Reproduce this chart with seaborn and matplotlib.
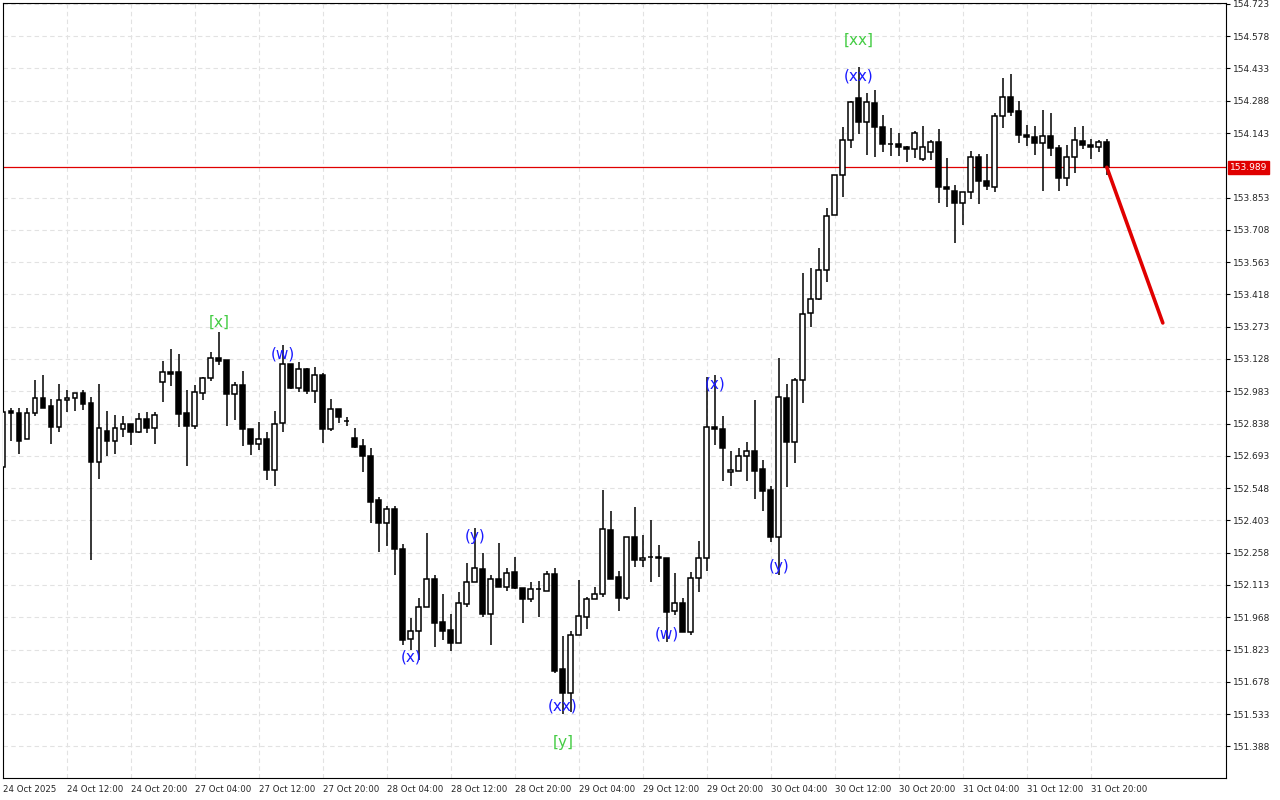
import matplotlib

matplotlib.use("Agg")
import matplotlib.pyplot as plt
import numpy as np
import pandas as pd
import seaborn as sns

# H1 candles, 24 Oct 04:00 .. 31 Oct 22:00 (weekend skipped)
opens = [
    152.643, 152.894, 152.885, 152.769, 152.885, 152.953, 152.917, 152.823, 152.944, 152.953,
    152.975, 152.931, 152.665, 152.805, 152.760, 152.814, 152.836, 152.800, 152.859, 152.818,
    153.025, 153.070, 153.070, 152.885, 152.827, 152.975, 153.043, 153.133, 153.124, 152.971,
    153.011, 152.814, 152.746, 152.769, 152.629, 152.841, 153.106, 152.998, 153.083, 152.985,
    153.056, 152.814, 152.903, 152.850, 152.773, 152.737, 152.692, 152.494, 152.391, 152.454,
    152.274, 151.870, 151.906, 152.014, 152.140, 151.946, 151.910, 151.852, 152.027, 152.126,
    152.185, 151.982, 152.140, 152.104, 152.171, 152.099, 152.050, 152.095, 152.086, 152.162,
    151.735, 151.627, 151.888, 151.969, 152.050, 152.072, 152.360, 152.149, 152.054, 152.328,
    152.225, 152.238, 152.238, 152.234, 151.996, 152.032, 151.901, 152.144, 152.234, 152.823,
    152.814, 152.620, 152.625, 152.692, 152.715, 152.634, 152.539, 152.328, 152.953, 152.755,
    153.034, 153.335, 153.398, 153.527, 153.775, 153.955, 154.112, 154.301, 154.193, 154.278,
    154.171, 154.094, 154.094, 154.081, 154.072, 154.027, 154.058, 154.103, 153.901, 153.883,
    153.829, 153.878, 154.036, 153.928, 153.901, 154.220, 154.305, 154.242, 154.134, 154.125,
    154.098, 154.130, 154.076, 153.941, 154.036, 154.107, 154.089, 154.081, 154.103,
]
highs = [
    152.899, 152.908, 152.908, 152.908, 153.034, 153.056, 152.949, 153.016, 152.989, 152.975,
    152.989, 152.958, 153.016, 152.894, 152.876, 152.872, 152.836, 152.885, 152.890, 152.890,
    153.119, 153.173, 153.151, 152.989, 153.011, 153.047, 153.160, 153.249, 153.124, 153.025,
    153.074, 152.814, 152.845, 152.800, 152.894, 153.191, 153.106, 153.115, 153.088, 153.092,
    153.065, 152.949, 152.903, 152.867, 152.818, 152.769, 152.728, 152.508, 152.467, 152.467,
    152.297, 151.964, 152.054, 152.346, 152.158, 152.072, 151.982, 152.081, 152.212, 152.369,
    152.256, 152.158, 152.301, 152.189, 152.238, 152.099, 152.126, 152.131, 152.176, 152.189,
    151.883, 151.906, 152.135, 152.059, 152.104, 152.539, 152.445, 152.176, 152.328, 152.463,
    152.337, 152.405, 152.292, 152.234, 152.167, 152.054, 152.171, 152.310, 153.047, 153.056,
    152.872, 152.715, 152.728, 152.755, 152.944, 152.674, 152.558, 153.133, 153.016, 153.043,
    153.514, 153.537, 153.627, 153.806, 153.955, 154.171, 154.288, 154.440, 154.323, 154.337,
    154.224, 154.166, 154.143, 154.085, 154.152, 154.175, 154.112, 154.161, 154.031, 153.910,
    153.878, 154.063, 154.049, 154.049, 154.233, 154.391, 154.409, 154.287, 154.179, 154.175,
    154.247, 154.233, 154.089, 154.089, 154.171, 154.175, 154.116, 154.112, 154.116,
]
lows = [
    152.629, 152.760, 152.702, 152.769, 152.872, 152.908, 152.746, 152.800, 152.890, 152.894,
    152.899, 152.225, 152.589, 152.692, 152.701, 152.778, 152.742, 152.796, 152.796, 152.746,
    152.935, 153.007, 152.823, 152.647, 152.814, 152.944, 153.029, 153.101, 152.827, 152.854,
    152.737, 152.696, 152.719, 152.585, 152.558, 152.800, 152.994, 152.980, 152.971, 152.931,
    152.751, 152.805, 152.841, 152.827, 152.728, 152.620, 152.391, 152.261, 152.288, 152.157,
    151.843, 151.821, 151.776, 152.014, 151.834, 151.865, 151.816, 151.852, 152.014, 152.126,
    151.969, 151.843, 152.104, 152.086, 152.095, 151.942, 152.036, 151.969, 152.086, 151.717,
    151.533, 151.542, 151.888, 151.915, 152.050, 152.059, 152.140, 151.996, 152.045, 152.194,
    152.194, 152.126, 152.149, 151.856, 151.978, 151.901, 151.888, 152.081, 152.176, 152.742,
    152.580, 152.558, 152.625, 152.580, 152.499, 152.445, 152.306, 152.158, 152.553, 152.661,
    152.931, 153.272, 153.393, 153.474, 153.775, 153.856, 154.076, 154.139, 154.045, 154.036,
    154.058, 154.040, 154.040, 154.013, 154.031, 154.018, 154.022, 153.829, 153.811, 153.649,
    153.730, 153.847, 153.824, 153.887, 153.878, 154.166, 154.220, 154.098, 154.085, 154.045,
    153.883, 154.040, 153.883, 153.905, 153.964, 154.072, 154.027, 154.058, 153.955,
]
closes = [
    152.890, 152.885, 152.760, 152.885, 152.953, 152.908, 152.823, 152.944, 152.953, 152.975,
    152.926, 152.665, 152.818, 152.760, 152.818, 152.836, 152.800, 152.859, 152.818, 152.876,
    153.070, 153.061, 152.881, 152.827, 152.980, 153.043, 153.133, 153.119, 152.971, 153.011,
    152.814, 152.746, 152.769, 152.629, 152.836, 153.106, 152.998, 153.083, 152.985, 153.056,
    152.814, 152.903, 152.867, 152.851, 152.733, 152.692, 152.485, 152.391, 152.454, 152.274,
    151.865, 151.906, 152.014, 152.140, 151.942, 151.906, 151.852, 152.032, 152.126, 152.189,
    151.982, 152.140, 152.104, 152.167, 152.099, 152.050, 152.095, 152.096, 152.162, 151.726,
    151.627, 151.888, 151.973, 152.050, 152.072, 152.364, 152.140, 152.054, 152.328, 152.225,
    152.234, 152.239, 152.234, 151.991, 152.032, 151.901, 152.144, 152.234, 152.823, 152.814,
    152.728, 152.629, 152.692, 152.715, 152.625, 152.535, 152.328, 152.957, 152.755, 153.034,
    153.330, 153.398, 153.527, 153.770, 153.955, 154.112, 154.283, 154.193, 154.283, 154.171,
    154.094, 154.095, 154.081, 154.072, 154.143, 154.081, 154.103, 153.901, 153.892, 153.829,
    153.878, 154.036, 153.928, 153.905, 154.220, 154.305, 154.238, 154.134, 154.125, 154.098,
    154.130, 154.076, 153.941, 154.036, 154.112, 154.089, 154.081, 154.103, 153.989,
]

time_labels = [
    "24 Oct 2025", "24 Oct 12:00", "24 Oct 20:00", "27 Oct 04:00", "27 Oct 12:00",
    "27 Oct 20:00", "28 Oct 04:00", "28 Oct 12:00", "28 Oct 20:00", "29 Oct 04:00",
    "29 Oct 12:00", "29 Oct 20:00", "30 Oct 04:00", "30 Oct 12:00", "30 Oct 20:00",
    "31 Oct 04:00", "31 Oct 12:00", "31 Oct 20:00",
]
price_ticks = [
    151.388, 151.533, 151.678, 151.823, 151.968, 152.113, 152.258, 152.403, 152.548,
    152.693, 152.838, 152.983, 153.128, 153.273, 153.418, 153.563, 153.708, 153.853,
    154.143, 154.288, 154.433, 154.578, 154.723,
]
current_price = 153.989

# wave labels: candle index, text, anchored at candle "high"/"low", major degree
wave_idx = [27, 35, 51, 59, 70, 70, 83, 89, 97, 107, 107]
wave_text = ["[x]", "(w)", "(x)", "(y)", "(xx)", "[y]", "(w)", "(x)", "(y)", "(xx)", "[xx]"]
wave_side = ["high", "high", "low", "high", "low", "low", "low", "high", "low", "high", "high"]
wave_major = [True, False, False, False, False, True, False, False, False, False, True]
wave_off = [10, -9, -7, -9, 8, -28, 8, -9, 8, -9, 27]  # pixels

# forecast line (candle index, price)
fc_idx = [138, 145]
fc_price = [153.989, 153.290]

sns.set_style("white")
plt.rcParams["font.family"] = ["DejaVu Sans"]

df = pd.DataFrame({"o": opens, "h": highs, "l": lows, "c": closes})
df["i"] = np.arange(len(df))

fig = plt.figure(figsize=(12.8, 8), dpi=100)
ax = fig.add_axes([3 / 1280, 22 / 800, 1223 / 1280, 775 / 800])

ax.vlines(df["i"], df["l"], df["h"], color="black", lw=1.1, zorder=2)
up = df["c"] >= df["o"]
bottoms = np.minimum(df["o"], df["c"])
heights = np.abs(df["c"] - df["o"])
ax.bar(df["i"], heights, bottom=bottoms, width=0.62,
       color=np.where(up, "white", "black"), edgecolor="black", lw=1.1, zorder=3)

ax.axhline(current_price, color="#e00000", lw=0.9, zorder=1)

fc = pd.DataFrame({"i": fc_idx, "p": fc_price})
sns.lineplot(data=fc, x="i", y="p", ax=ax, color="#e00000", lw=2.6, zorder=4)

for idx, txt, side, major, off in zip(wave_idx, wave_text, wave_side, wave_major, wave_off):
    y = highs[idx] if side == "high" else lows[idx]
    ax.annotate(txt, (idx, y), xytext=(0, off), textcoords="offset pixels",
                ha="center", va="center", fontsize=11, zorder=5,
                color="#44cc44" if major else "#1a1aff")

ax.set_xlim(0, 152.9)
ax.set_ylim(151.246, 154.727)
ax.set_xticks(np.arange(len(time_labels)) * 8)
ax.set_xticklabels(time_labels, ha="left", fontsize=6.2)
ax.yaxis.tick_right()
ax.set_yticks(price_ticks)
ax.set_yticklabels([f"{v:.3f}" for v in price_ticks], fontsize=6.5)
ax.tick_params(length=3, width=0.8, color="black", pad=2)
ax.grid(True, color="#e2e2e2", lw=0.8, linestyle=(0, (4, 3)))
ax.set_axisbelow(True)
ax.set_xlabel("")
ax.set_ylabel("")
for s in ax.spines.values():
    s.set_color("black")
    s.set_linewidth(0.8)

ax.text(1.003, current_price, f"{current_price:.3f}", transform=ax.get_yaxis_transform(),
        fontsize=6.5, color="white", va="center", ha="left",
        bbox=dict(boxstyle="square,pad=0.2", fc="#e00000", ec="#e00000"))

fig.savefig("out.png", dpi=100)
